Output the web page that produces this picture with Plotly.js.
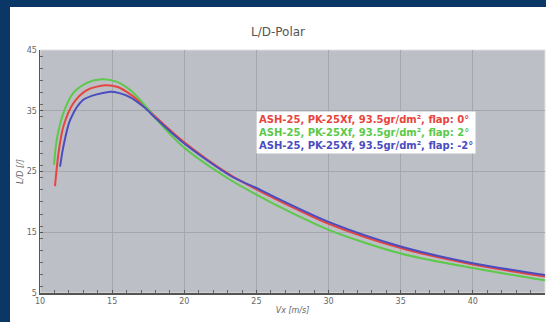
<!DOCTYPE html>
<html><head><meta charset="utf-8">
<script src="https://cdn.plot.ly/plotly-3.0.1.min.js"></script>
<style>
html,body{margin:0;padding:0;width:546px;height:322px;overflow:hidden;background:#0b3767;}
#panel{position:absolute;left:10px;top:7px;width:536px;height:315px;background:#fff;}
</style></head><body>
<div id="panel"></div>
<script>
const seriesNames = ["ASH-25, PK-25Xf, 93.5gr/dm², flap: 0°","ASH-25, PK-25Xf, 93.5gr/dm², flap: 2°","ASH-25, PK-25Xf, 93.5gr/dm², flap: -2°"];
const seriesColors = ["#e8443e","#5cc94a","#4a4cc0"];

const vxFlap0 = [11.04,11.28,11.62,12.3,13.25,14.52,15.4,16.26,17.2,18.1,20.0,23.2,25.3,26.0,30.0,35.0,40.0,45.0];
const ldFlap0 = [22.6,28.0,32.4,36.2,38.4,39.2,38.9,37.7,35.9,33.8,29.8,24.4,21.7,20.85,16.4,12.4,9.7,7.7];

const vxFlap2 = [10.97,11.16,11.62,12.3,13.25,14.29,15.3,16.26,17.2,18.1,20.0,23.2,25.3,26.0,30.0,35.0,40.0,45.0];
const ldFlap2 = [26.1,30.2,34.6,37.9,39.6,40.2,39.8,38.4,36.1,33.5,28.9,23.6,20.8,19.9,15.4,11.5,9.1,7.1];

const vxFlapM2 = [11.39,11.62,12.09,13.0,14.75,15.5,16.26,17.2,18.1,20.0,23.2,25.3,26.0,30.0,35.0,40.0,45.0];
const ldFlapM2 = [25.8,29.1,33.5,36.8,38.1,37.9,37.2,35.6,33.6,29.6,24.3,21.95,21.1,16.7,12.65,9.9,7.95];

const xs = [vxFlap0, vxFlap2, vxFlapM2];
const ys = [ldFlap0, ldFlap2, ldFlapM2];

const traces = xs.map((x,i)=>({
  x:x, y:ys[i], type:'scatter', mode:'lines', name:seriesNames[i],
  line:{color:seriesColors[i], width:2, shape:'spline', smoothing:0.8}, showlegend:false
}));

const legendText = seriesNames.map((n,i)=>`<span style="color:${seriesColors[i]}"><b>${n}</b></span>`).join('<br>');

const layout = {
  width:536, height:315,
  paper_bgcolor:'#ffffff', plot_bgcolor:'#bcbfc5',
  margin:{l:30, r:1, t:43, b:29},
  title:{text:'L/D-Polar', font:{family:'DejaVu Sans', size:12, color:'#555'}, x:0.5, xref:'container', y:0.92, yref:'container', yanchor:'middle'},
  xaxis:{range:[10,45], dtick:5, tick0:10, showgrid:true, gridcolor:'#a4a7ac', gridwidth:1,
    showline:true, linecolor:'#555', linewidth:1.5, ticks:'inside', ticklen:3, tickcolor:'#555',
    minor:{dtick:1, ticks:'inside', ticklen:3, tickcolor:'#666', showgrid:false},
    tickfont:{family:'DejaVu Sans', size:8, color:'#666'}, zeroline:false,
    title:{text:'<i>Vx [m/s]</i>', font:{family:'DejaVu Sans', size:8, color:'#666'}, standoff:2}},
  yaxis:{range:[5,45], dtick:10, tick0:5, showgrid:true, gridcolor:'#a4a7ac', gridwidth:1,
    showline:true, linecolor:'#555', linewidth:1.5, ticks:'inside', ticklen:3, tickcolor:'#555',
    minor:{dtick:2, ticks:'inside', ticklen:3, tickcolor:'#666', showgrid:false},
    tickfont:{family:'DejaVu Sans', size:8, color:'#666'}, zeroline:false,
    title:{text:'<i>L/D [/]</i>', font:{family:'DejaVu Sans', size:8, color:'#666'}, standoff:2}},
  annotations:[{xref:'x', yref:'y', x:25, y:35, xanchor:'left', yanchor:'top', align:'left',
    text:legendText, showarrow:false, bgcolor:'#ffffff', borderpad:2,
    font:{family:'DejaVu Sans', size:10}}],
  shapes:[{type:'rect', xref:'paper', yref:'paper', x0:0, x1:1, y0:0, y1:1, line:{color:'#e0e0e0', width:1}, layer:'below'}]
};
Plotly.newPlot('panel', traces, layout, {displayModeBar:false, staticPlot:true});
</script></body></html>
